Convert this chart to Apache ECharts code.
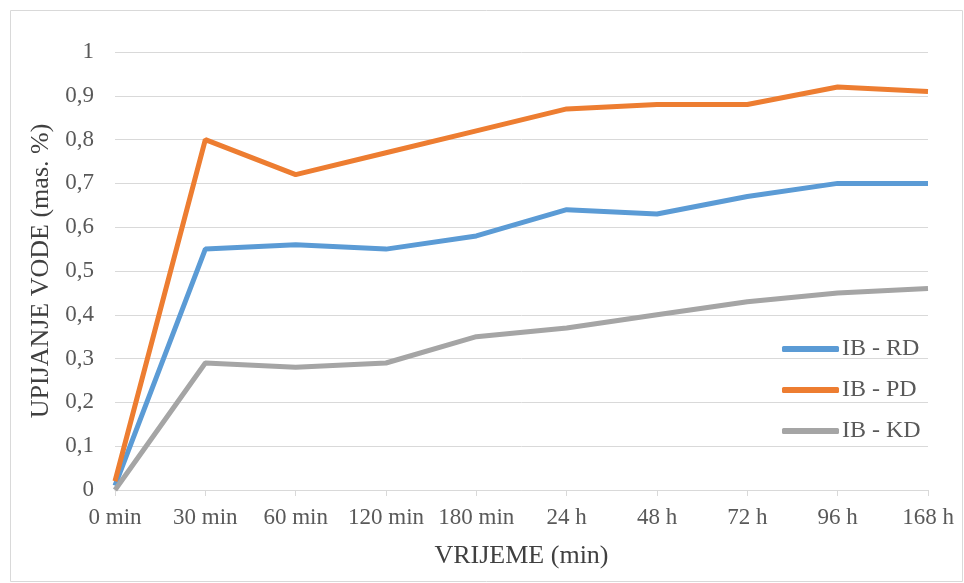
<!DOCTYPE html>
<html><head><meta charset="utf-8">
<script src="https://cdn.jsdelivr.net/npm/echarts@6/dist/echarts.min.js"></script>
<style>html,body{margin:0;padding:0;background:#fff}#c{width:964px;height:583px}</style>
</head><body><div id="c"></div>
<script>
const categories = ['0 min','30 min','60 min','120 min','180 min','24 h','48 h','72 h','96 h','168 h'];
const rd = [0.01,0.55,0.56,0.55,0.58,0.64,0.63,0.67,0.70,0.70];
const pd = [0.02,0.80,0.72,0.77,0.82,0.87,0.88,0.88,0.92,0.91];
const kd = [0.00,0.29,0.28,0.29,0.35,0.37,0.40,0.43,0.45,0.46];
const seriesNames = ['IB - RD','IB - PD','IB - KD'];
const colors = ['#5B9BD5','#ED7D31','#A5A5A5'];
const font = '"Liberation Serif","Times New Roman",serif';
const chart = echarts.init(document.getElementById('c'));
chart.setOption({
  animation:false,
  graphic:[{type:'rect',shape:{x:10.5,y:10.5,width:952,height:571},style:{fill:'none',stroke:'#d9d9d9',lineWidth:1}}],
  grid:{left:115,right:36,top:52,bottom:93},
  legend:{orient:'vertical',left:782,top:337,padding:0,itemWidth:57,itemHeight:6,itemGap:17,icon:'roundRect',
    textStyle:{fontFamily:font,fontSize:24,color:'#595959',padding:[0,0,0,-2]},data:seriesNames},
  xAxis:{type:'category',data:categories,boundaryGap:false,
    name:'VRIJEME (min)',nameLocation:'middle',nameGap:53,nameTextStyle:{fontFamily:font,fontSize:26,color:'#404040'},
    axisLine:{lineStyle:{color:'#d9d9d9',width:1}},axisTick:{show:true,interval:0,length:6,lineStyle:{color:'#d9d9d9'}},
    axisLabel:{interval:0,hideOverlap:false,fontFamily:font,fontSize:23,color:'#595959',margin:16}},
  yAxis:{type:'value',min:0,max:1,interval:0.1,
    name:'UPIJANJE VODE (mas. %)',nameLocation:'middle',nameGap:61,nameTextStyle:{fontFamily:font,fontSize:26,color:'#404040'},
    axisLine:{show:false},axisTick:{show:false},
    splitLine:{lineStyle:{color:'#d9d9d9',width:1}},
    axisLabel:{fontFamily:font,fontSize:23,color:'#595959',margin:21,
      formatter:v=>String(Math.round(v*10)/10).replace('.',',')}},
  series:[
    {name:seriesNames[0],type:'line',data:rd,symbol:'none',lineStyle:{width:5,color:colors[0]},itemStyle:{color:colors[0]}},
    {name:seriesNames[1],type:'line',data:pd,symbol:'none',lineStyle:{width:5,color:colors[1]},itemStyle:{color:colors[1]}},
    {name:seriesNames[2],type:'line',data:kd,symbol:'none',lineStyle:{width:5,color:colors[2]},itemStyle:{color:colors[2]}}
  ]
});
</script></body></html>
